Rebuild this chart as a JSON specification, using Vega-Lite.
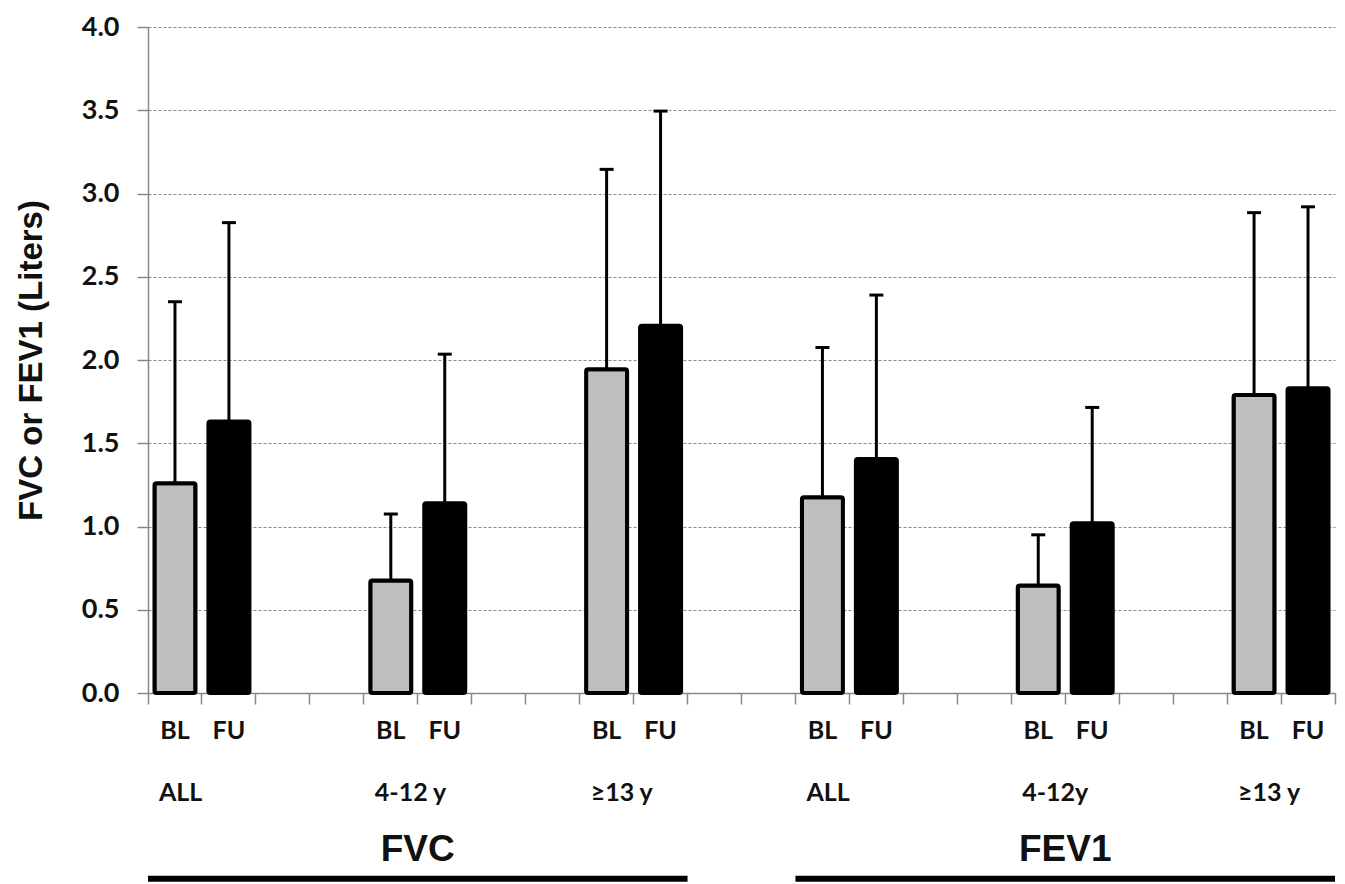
{
  "$schema": "https://vega.github.io/schema/vega-lite/v6.json",
  "width": 1187,
  "height": 666,
  "autosize": "none",
  "padding": {"left": 148, "top": 27, "right": 10, "bottom": 191},
  "background": "white",
  "config": {"view": {"stroke": null}},
  "datasets": {
    "bars": [
      {"slot": "s01", "measure": "FVC", "group": "ALL", "visit": "BL", "mean": 1.26, "upper": 2.35},
      {"slot": "s02", "measure": "FVC", "group": "ALL", "visit": "FU", "mean": 1.63, "upper": 2.825},
      {"slot": "s05", "measure": "FVC", "group": "4-12 y", "visit": "BL", "mean": 0.675, "upper": 1.075},
      {"slot": "s06", "measure": "FVC", "group": "4-12 y", "visit": "FU", "mean": 1.14, "upper": 2.035},
      {"slot": "s09", "measure": "FVC", "group": "≥13 y", "visit": "BL", "mean": 1.945, "upper": 3.145},
      {"slot": "s10", "measure": "FVC", "group": "≥13 y", "visit": "FU", "mean": 2.205, "upper": 3.495},
      {"slot": "s13", "measure": "FEV1", "group": "ALL", "visit": "BL", "mean": 1.175, "upper": 2.075},
      {"slot": "s14", "measure": "FEV1", "group": "ALL", "visit": "FU", "mean": 1.405, "upper": 2.39},
      {"slot": "s17", "measure": "FEV1", "group": "4-12y", "visit": "BL", "mean": 0.645, "upper": 0.95},
      {"slot": "s18", "measure": "FEV1", "group": "4-12y", "visit": "FU", "mean": 1.02, "upper": 1.715},
      {"slot": "s21", "measure": "FEV1", "group": "≥13 y", "visit": "BL", "mean": 1.79, "upper": 2.885},
      {"slot": "s22", "measure": "FEV1", "group": "≥13 y", "visit": "FU", "mean": 1.83, "upper": 2.92}
    ],
    "groups": [
      {"slot": "s01", "label": "ALL"},
      {"slot": "s05", "label": "4-12 y"},
      {"slot": "s09", "label": "≥13 y"},
      {"slot": "s13", "label": "ALL"},
      {"slot": "s17", "label": "4-12y"},
      {"slot": "s21", "label": "≥13 y"}
    ],
    "measures": [
      {"slot": "s01", "end": "s10", "mid": "s06", "label": "FVC"},
      {"slot": "s13", "end": "s22", "mid": "s18", "label": "FEV1"}
    ]
  },
  "layer": [
    {
      "data": {"name": "bars"},
      "mark": {"type": "rule", "color": "black", "strokeWidth": 3},
      "encoding": {
        "x": {"field": "slot", "type": "nominal",
              "scale": {"domain": ["s01","s02","s03","s04","s05","s06","s07","s08","s09","s10","s11","s12","s13","s14","s15","s16","s17","s18","s19","s20","s21","s22"], "paddingInner": 0, "paddingOuter": 0},
              "axis": {"labels": false, "title": null, "bandPosition": 1, "tickExtra": true, "tickSize": 11, "tickColor": "#888888", "tickWidth": 1.5, "domainColor": "#888888", "domainWidth": 1.5, "grid": false}},
        "y": {"field": "mean", "type": "quantitative",
              "scale": {"domain": [0, 4], "nice": false, "zero": true},
              "axis": {"title": "FVC or FEV1 (Liters)", "values": [0,0.5,1,1.5,2,2.5,3,3.5,4], "format": ".1f",
                       "labelFont": "Lato", "labelFontWeight": "bold", "labelFontSize": 27, "labelColor": "#111111", "labelPadding": 18,
                       "tickSize": 11, "tickColor": "#888888", "tickWidth": 1.5, "domainColor": "#888888", "domainWidth": 1.5,
                       "grid": true, "gridColor": "#8a8a8a", "gridDash": [3, 2], "gridWidth": 1,
                       "titleFont": "Liberation Sans", "titleFontSize": 33, "titleFontWeight": "bold", "titleColor": "#111111", "titlePadding": 33}},
        "y2": {"field": "upper"}
      }
    },
    {
      "data": {"name": "bars"},
      "mark": {"type": "tick", "color": "black", "size": 14, "thickness": 3, "opacity": 1},
      "encoding": {
        "x": {"field": "slot", "type": "nominal"},
        "y": {"field": "upper", "type": "quantitative"}
      }
    },
    {
      "data": {"name": "bars"},
      "mark": {"type": "bar", "stroke": "black", "strokeWidth": 4, "width": {"band": 0.76}, "cornerRadius": 2, "opacity": 1},
      "encoding": {
        "x": {"field": "slot", "type": "nominal"},
        "y": {"field": "mean", "type": "quantitative"},
        "fill": {"field": "visit", "type": "nominal", "scale": {"domain": ["BL", "FU"], "range": ["#bfbfbf", "#000000"]}, "legend": null}
      }
    },
    {
      "data": {"name": "bars"},
      "mark": {"type": "text", "font": "Lato", "fontWeight": "bold", "fontSize": 25, "color": "#111111", "baseline": "middle", "align": "center"},
      "encoding": {
        "x": {"field": "slot", "type": "nominal"},
        "y": {"datum": -0.226, "type": "quantitative"},
        "text": {"field": "visit"}
      }
    },
    {
      "data": {"name": "groups"},
      "mark": {"type": "text", "font": "Lato", "fontWeight": "bold", "fontSize": 25, "color": "#111111", "baseline": "middle", "align": "left", "dx": 11},
      "encoding": {
        "x": {"field": "slot", "type": "nominal", "bandPosition": 0},
        "y": {"datum": -0.6, "type": "quantitative"},
        "text": {"field": "label"}
      }
    },
    {
      "data": {"name": "measures"},
      "mark": {"type": "text", "font": "Liberation Sans", "fontWeight": "bold", "fontSize": 37, "color": "#111111", "baseline": "middle", "align": "center"},
      "encoding": {
        "x": {"field": "mid", "type": "nominal", "bandPosition": 0},
        "y": {"datum": -0.94, "type": "quantitative"},
        "text": {"field": "label"}
      }
    },
    {
      "data": {"name": "measures"},
      "mark": {"type": "rule", "color": "black", "strokeWidth": 6},
      "encoding": {
        "x": {"field": "slot", "type": "nominal", "bandPosition": 0},
        "x2": {"field": "end", "bandPosition": 1},
        "y": {"datum": -1.115, "type": "quantitative"}
      }
    }
  ]
}
